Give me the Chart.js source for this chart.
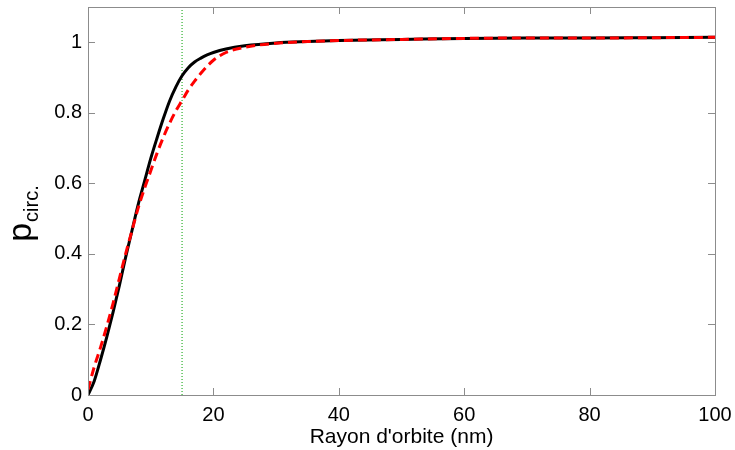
<!DOCTYPE html>
<html>
<head>
<meta charset="utf-8">
<script src="https://cdn.jsdelivr.net/npm/chart.js@4"></script>
<style>
  html, body { margin: 0; padding: 0; background: #fff; }
  #wrap { width: 735px; height: 450px; }
</style>
</head>
<body>
<div id="wrap"><canvas id="c" width="735" height="450"></canvas></div>
<script>
// radius values (nm)
const radii = [0, 1, 2, 3, 4, 5, 6, 7, 8, 9, 10, 11, 12, 13, 14, 15, 16, 17, 18, 19, 20, 22, 25, 30, 35, 40, 50, 60, 70, 80, 90, 100];
// solid black curve
const pSolid = [0, 0.04, 0.10, 0.165, 0.235, 0.31, 0.39, 0.465, 0.54, 0.605, 0.67, 0.728, 0.783, 0.833, 0.873, 0.905, 0.928, 0.944, 0.955, 0.964, 0.971, 0.981, 0.99, 0.998, 1.002, 1.005, 1.008, 1.011, 1.012, 1.012, 1.013, 1.014];
// dashed red curve
const pDashed = [0.015, 0.08, 0.135, 0.195, 0.26, 0.33, 0.40, 0.465, 0.53, 0.585, 0.635, 0.685, 0.73, 0.77, 0.805, 0.835, 0.865, 0.89, 0.912, 0.932, 0.949, 0.971, 0.986, 0.997, 1.002, 1.005, 1.008, 1.011, 1.012, 1.012, 1.013, 1.014];
// vertical dotted marker
const markerX = 15;
const xTicks = [0, 20, 40, 60, 80, 100];
const yTicks = [0, 0.2, 0.4, 0.6, 0.8, 1];

const toPoints = (xs, ys) => xs.map((x, i) => ({ x: x, y: ys[i] }));

// matlab-like box with inward ticks and the rotated subscript y title
const boxPlugin = {
  id: 'box',
  afterDraw(chart) {
    const { ctx, chartArea: a, scales } = chart;
    ctx.save();
    ctx.strokeStyle = '#8c8c8c';
    ctx.lineWidth = 1;
    ctx.strokeRect(a.left + 0.5, a.top + 0.5, a.right - a.left, a.bottom - a.top);
    ctx.beginPath();
    xTicks.forEach(v => {
      const px = Math.round(scales.x.getPixelForValue(v)) + 0.5;
      ctx.moveTo(px, a.bottom); ctx.lineTo(px, a.bottom - 7);
      ctx.moveTo(px, a.top); ctx.lineTo(px, a.top + 7);
    });
    yTicks.forEach(v => {
      const py = Math.round(scales.y.getPixelForValue(v)) + 0.5;
      ctx.moveTo(a.left, py); ctx.lineTo(a.left + 7, py);
      ctx.moveTo(a.right, py); ctx.lineTo(a.right - 7, py);
    });
    ctx.stroke();

    // y title: p with subscript
    ctx.translate(31, 214);
    ctx.rotate(-Math.PI / 2);
    ctx.fillStyle = '#000';
    ctx.textBaseline = 'alphabetic';
    ctx.font = '34px "Liberation Sans", Arial, sans-serif';
    const pw = ctx.measureText('p').width;
    ctx.font = '20px "Liberation Sans", Arial, sans-serif';
    const sw = ctx.measureText('circ.').width;
    const start = -(pw + sw) / 2;
    ctx.font = '34px "Liberation Sans", Arial, sans-serif';
    ctx.fillText('p', start, 0);
    ctx.font = '20px "Liberation Sans", Arial, sans-serif';
    ctx.fillText('circ.', start + pw + 1, 7);
    ctx.restore();
  }
};

const ctx = document.getElementById('c').getContext('2d');
new Chart(ctx, {
  type: 'line',
  data: {
    datasets: [
      {
        data: toPoints(radii, pDashed),
        borderColor: '#ff0000',
        borderWidth: 3,
        borderDash: [9, 5],
        pointRadius: 0,
        cubicInterpolationMode: 'monotone',
        order: 0
      },
      {
        data: toPoints(radii, pSolid),
        borderColor: '#000000',
        borderWidth: 3,
        pointRadius: 0,
        cubicInterpolationMode: 'monotone',
        order: 1
      },
      {
        data: [{ x: markerX, y: 0 }, { x: markerX, y: 1.1 }],
        borderColor: '#00a000',
        borderWidth: 1,
        borderDash: [1, 2],
        pointRadius: 0,
        order: 2
      }
    ]
  },
  options: {
    responsive: false,
    animation: false,
    layout: { padding: { top: 7, right: 20, left: 0, bottom: 0 } },
    plugins: { legend: { display: false }, tooltip: { enabled: false } },
    scales: {
      x: {
        type: 'linear',
        min: 0,
        max: 100,
        grid: { display: false, drawTicks: false },
        border: { display: false },
        afterBuildTicks(s) { s.ticks = xTicks.map(v => ({ value: v })); },
        afterFit(s) { s.height = 55; s.paddingLeft = 0; s.paddingRight = 0; },
        ticks: {
          padding: 8,
          color: '#000',
          font: { family: '"Liberation Sans", Arial, sans-serif', size: 20 },
          callback: v => String(v)
        },
        title: {
          display: true,
          text: "Rayon d'orbite (nm)",
          color: '#000',
          padding: { top: 0, bottom: 0 },
          font: { family: '"Liberation Sans", Arial, sans-serif', size: 21 }
        }
      },
      y: {
        type: 'linear',
        min: 0,
        max: 1.1,
        grid: { display: false, drawTicks: false },
        border: { display: false },
        afterBuildTicks(s) { s.ticks = yTicks.map(v => ({ value: v })); },
        afterFit(s) { s.width = 88; s.paddingTop = 0; s.paddingBottom = 0; },
        ticks: {
          padding: 6,
          color: '#000',
          font: { family: '"Liberation Sans", Arial, sans-serif', size: 20 },
          callback: v => String(Math.round(v * 10) / 10)
        }
      }
    }
  },
  plugins: [boxPlugin]
});
</script>
</body>
</html>
